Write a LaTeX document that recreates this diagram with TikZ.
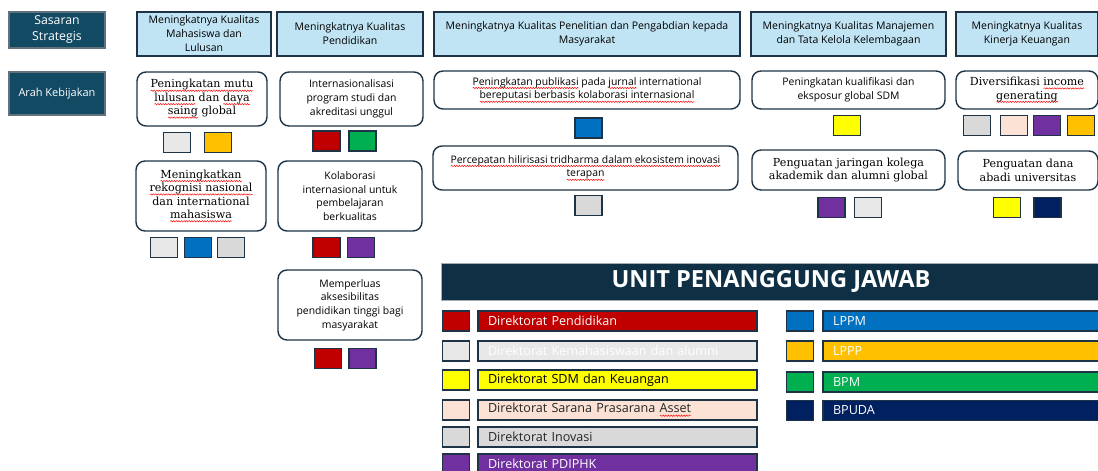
\documentclass[tikz,border=0pt]{standalone}
\usepackage{fontspec}
\usetikzlibrary{decorations.pathmorphing}
\setmainfont{DejaVu Serif}
\setsansfont{Open Sans}
\newfontfamily\serifx{DejaVu Serif}
\newdimen\rwd
\newcommand\rw[1]{\setbox0\hbox{#1}\rwd=\wd0\relax\rlap{\tikz[baseline=0pt]{\draw[red,line width=0.45pt,rounded corners=0pt,decorate,decoration={snake,amplitude=0.7pt,segment length=2.6pt}] (0pt,-2.8pt) -- (\the\rwd,-2.8pt);}}\box0\relax}
\definecolor{bordc}{HTML}{1E3446}
\definecolor{darkt}{HTML}{124A64}
\definecolor{bann}{HTML}{0E2F44}
\definecolor{hdrf}{HTML}{C1E4F5}
\definecolor{cGa}{HTML}{E8E8E8}
\definecolor{cGb}{HTML}{D9D9D9}
\definecolor{cOr}{HTML}{FFC000}
\definecolor{cRe}{HTML}{C00000}
\definecolor{cGr}{HTML}{00B050}
\definecolor{cBl}{HTML}{0070C0}
\definecolor{cYe}{HTML}{FFFF00}
\definecolor{cPe}{HTML}{FBE2D5}
\definecolor{cPu}{HTML}{7030A0}
\definecolor{cNa}{HTML}{002060}
\begin{document}
\begin{tikzpicture}[x=1pt,y=-1pt,
  darkbox/.style={draw=bordc!70,line width=1.2pt,fill=darkt,text=white,font=\sffamily\fontsize{11}{14}\selectfont,align=center,inner sep=0pt},
  hdr/.style={draw=bordc,line width=1.3pt,fill=hdrf,text=black,font=\sffamily\fontsize{10.5}{14}\selectfont,align=center,inner sep=0pt},
  pol/.style={draw=bordc,line width=1.4pt,rounded corners=9pt,fill=white,text=black,font=\sffamily\fontsize{10.4}{13.8}\selectfont,align=center,inner sep=0pt},
  pols/.style={pol,font=\serifx\fontsize{11.1}{13.4}\selectfont},
  sq/.style={draw=bordc,line width=1.3pt,minimum width=27pt,minimum height=20pt,inner sep=0pt},
  bar/.style={draw=bordc,line width=1.2pt,minimum height=20pt,inner xsep=10pt,inner ysep=0pt,align=left,font=\sffamily\fontsize{12.6}{14}\selectfont},
]
\useasboundingbox (0,0) rectangle (1098,471);
% left labels
\node[darkbox,minimum width=96pt,minimum height=36pt,font=\sffamily\fontsize{12.3}{16}\selectfont] (ss) at (57,30) {Sasaran\\Strategis};
\node[darkbox,minimum width=96pt,minimum height=43pt] (ak) at (57,93.5) {Arah Kebijakan};
% headers
\node[hdr,minimum width=134pt,minimum height=44pt] (h1) at (204,34) {Meningkatnya Kualitas\\Mahasiswa dan\\Lulusan};
\node[hdr,minimum width=146pt,minimum height=44pt] (h2) at (350,34) {Meningkatnya Kualitas\\Pendidikan};
\node[hdr,minimum width=306pt,minimum height=44pt] (h3) at (587,34) {Meningkatnya Kualitas Penelitian dan Pengabdian kepada\\Masyarakat};
\node[hdr,minimum width=195pt,minimum height=44pt] (h4) at (848.5,34) {Meningkatnya Kualitas Manajemen\\dan Tata Kelola Kelembagaan};
\node[hdr,minimum width=142pt,minimum height=44pt] (h5) at (1027,34) {Meningkatnya Kualitas\\Kinerja Keuangan};
% policy boxes
\node[pols,minimum width=130pt,minimum height=54pt] (p1a) at (202,99) {\rw{Peningkatan mutu}\\\rw{lulusan} dan \rw{daya}\\\rw{saing} global};
\node[pol,minimum width=143pt,minimum height=54pt] (p2a) at (351.5,99) {Internasionalisasi\\program studi dan\\akreditasi unggul};
\node[pol,minimum width=306pt,minimum height=38pt] (p3a) at (587,90) {\rw{Peningkatan publikasi} pada \rw{jurnal} international\\\rw{bereputasi berbasis kolaborasi internasional}};
\node[pol,minimum width=193pt,minimum height=38pt] (p4a) at (848.5,90) {Peningkatan kualifikasi dan\\eksposur global SDM};
\node[pols,minimum width=142pt,minimum height=38pt] (p5a) at (1027,90) {Diversifikasi \rw{income}\\\rw{generating}};
\node[pols,minimum width=130pt,minimum height=70pt] (p1b) at (201,196) {\rw{Meningkatkan}\\\rw{rekognisi nasional}\\dan international\\\rw{mahasiswa}};
\node[pol,minimum width=144pt,minimum height=70pt] (p2b) at (350,196) {Kolaborasi\\internasional untuk\\pembelajaran\\berkualitas};
\node[pol,minimum width=305pt,minimum height=44pt] (p3b) at (585.5,168) {\rw{Percepatan hilirisasi tridharma dalam ekosistem inovasi}\\\rw{terapan}};
\node[pols,minimum width=193pt,minimum height=40pt] (p4b) at (848.5,170) {Penguatan jaringan kolega\\akademik dan alumni global};
\node[pols,minimum width=140pt,minimum height=39pt] (p5b) at (1028,170.5) {Penguatan dana\\abadi universitas};
\node[pol,minimum width=144pt,minimum height=70pt] (p2c) at (350,305) {Memperluas\\aksesibilitas\\pendidikan tinggi bagi\\masyarakat};
% squares
\node[sq,fill=cGa] (s1) at (177,142.5) {};
\node[sq,fill=cOr] (s2) at (218,142.5) {};
\node[sq,fill=cRe] (s3) at (326.5,141) {};
\node[sq,fill=cGr] (s4) at (362.5,141) {};
\node[sq,fill=cBl] (s5) at (588.5,128) {};
\node[sq,fill=cYe] (s6) at (847,125.5) {};
\node[sq,fill=cGb] (s7) at (977,125.5) {};
\node[sq,fill=cPe] (s8) at (1014,125.5) {};
\node[sq,fill=cPu] (s9) at (1047,125.5) {};
\node[sq,fill=cOr] (s10) at (1081,125.5) {};
\node[sq,fill=cGa] (s11) at (164,247.5) {};
\node[sq,fill=cBl] (s12) at (198,247.5) {};
\node[sq,fill=cGb] (s13) at (231,247.5) {};
\node[sq,fill=cRe] (s14) at (326.5,247.5) {};
\node[sq,fill=cPu] (s15) at (361,247.5) {};
\node[sq,fill=cGb] (s16) at (588.5,205.5) {};
\node[sq,fill=cPu] (s17) at (831.5,207.5) {};
\node[sq,fill=cGa] (s18) at (868,207.5) {};
\node[sq,fill=cYe] (s19) at (1007,207.5) {};
\node[sq,fill=cNa] (s20) at (1047.5,207.5) {};
\node[sq,fill=cRe] (s21) at (328,358.5) {};
\node[sq,fill=cPu] (s22) at (362.5,358.5) {};
% banner
\node[fill=bann,draw=bordc!40,line width=0.8pt,minimum width=660pt,minimum height=37pt,inner sep=0pt,text=white,font=\sffamily\bfseries\fontsize{23.6}{26}\selectfont] (ban) at (771,281.5) {UNIT PENANGGUNG JAWAB};
% legend left
\node[sq,fill=cRe] (l1) at (456,321) {};
\node[bar,fill=cRe,text=white,text width=259pt] (b1) at (617.5,321) {Direktorat Pendidikan};
\node[sq,fill=cGa] (l2) at (456,351) {};
\node[bar,fill=cGa,text=white,text width=259pt] (b2) at (617.5,351) {Direktorat Kemahasiswaan dan alumni};
\node[sq,fill=cYe] (l3) at (456,380) {};
\node[bar,fill=cYe,text=black,text width=259pt] (b3) at (617.5,380) {Direktorat SDM dan Keuangan};
\node[sq,fill=cPe] (l4) at (456,410) {};
\node[bar,fill=cPe,text=black!85,text width=259pt] (b4) at (617.5,410) {Direktorat Sarana Prasarana \rw{Asset}};
\node[sq,fill=cGb] (l5) at (456,437) {};
\node[bar,fill=cGb,text=black!85,text width=259pt] (b5) at (617.5,437) {Direktorat Inovasi};
\node[sq,fill=cPu] (l6) at (456,464) {};
\node[bar,fill=cPu,text=white,text width=259pt] (b6) at (617.5,464) {Direktorat PDIPHK};
% legend right
\node[sq,fill=cBl] (r1) at (800,321) {};
\node[bar,fill=cBl,text=white,text width=258pt] (c1) at (962,321) {LPPM};
\node[sq,fill=cOr] (r2) at (800,351) {};
\node[bar,fill=cOr,text=white,text width=258pt] (c2) at (962,351) {LPPP};
\node[sq,fill=cGr] (r3) at (800,382) {};
\node[bar,fill=cGr,text=white,text width=258pt] (c3) at (962,382) {BPM};
\node[sq,fill=cNa] (r4) at (800,410.5) {};
\node[bar,fill=cNa,text=white,text width=258pt] (c4) at (962,410.5) {BPUDA};
\end{tikzpicture}
\end{document}
